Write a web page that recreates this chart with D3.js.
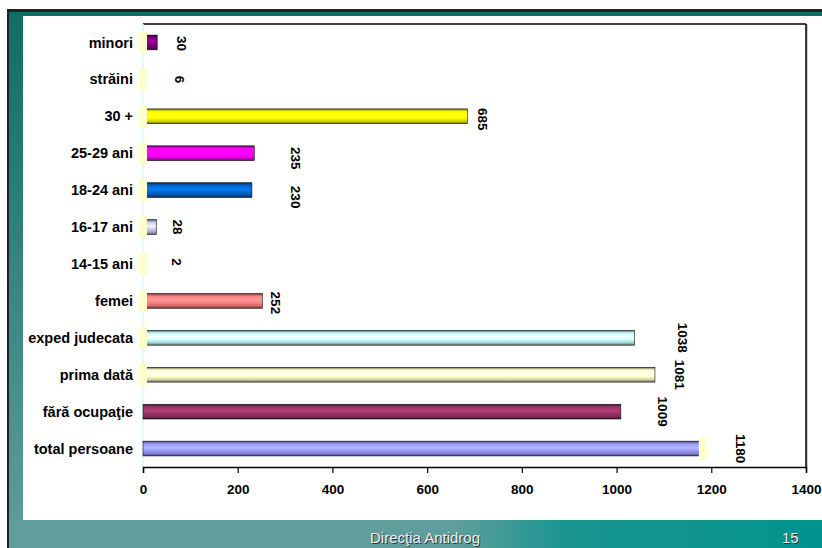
<!DOCTYPE html>
<html>
<head>
<meta charset="utf-8">
<script src="https://cdn.jsdelivr.net/npm/d3@7"></script>
<style>
  body { margin: 0; background: #fff; }
  svg { display: block; font-family: "Liberation Sans", Arial, sans-serif; }
</style>
</head>
<body>
<div id="chart"></div>
<script>
// chart data, top row first
const categories = ['minori', 'străini', '30 +', '25-29 ani', '18-24 ani', '16-17 ani', '14-15 ani',
  'femei', 'exped judecata', 'prima dată', 'fără ocupaţie', 'total persoane'];
const values = [30, 6, 685, 235, 230, 28, 2, 252, 1038, 1081, 1009, 1180];
const xTicks = [0, 200, 400, 600, 800, 1000, 1200, 1400];
const footerText = 'Direcţia Antidrog';
const pageNumber = '15';

// styling per row
const barColors = ['#800080', '#008080', '#ffff00', '#ff00ff', '#0066cc', '#ccccff', '#3366ff',
  '#ff8080', '#ccffff', '#ffffcc', '#993366', '#9999ff'];
const labelDx = [25, 34, 15, 41, 44, 21, 33, 13, 48, 25, 42, 39];
const labelDy = [1, 0, 3, 5, 7, 0, -2, 2, 0, 0, 0, 0];
const wallAt = ['start', 'start', 'start', 'start', 'start', 'start', 'start', 'start', 'start', 'start', null, 'end'];

const width = 822, height = 548;
const plot = { left: 143, right: 806, top: 24, bottom: 467 };

const svg = d3.select('#chart').append('svg')
  .attr('width', width)
  .attr('height', height);

const defs = svg.append('defs');

// slide background
const sideGrad = defs.append('linearGradient').attr('id', 'side').attr('x1', 0).attr('x2', 0).attr('y1', 0).attr('y2', 1);
sideGrad.append('stop').attr('offset', '0%').attr('stop-color', '#0f6d67');
sideGrad.append('stop').attr('offset', '100%').attr('stop-color', '#5f9e9b');

const footGrad = defs.append('linearGradient').attr('id', 'foot');
footGrad.append('stop').attr('offset', '0%').attr('stop-color', '#5f9e9b');
footGrad.append('stop').attr('offset', '55%').attr('stop-color', '#5f9e9b');
footGrad.append('stop').attr('offset', '68%').attr('stop-color', '#1a9590');
footGrad.append('stop').attr('offset', '100%').attr('stop-color', '#02938e');

svg.append('rect').attr('x', 7).attr('y', 9).attr('width', width - 7).attr('height', height - 9).attr('fill', 'url(#side)');
svg.append('rect').attr('x', 7).attr('y', 9).attr('width', width - 7).attr('height', 3).attr('fill', '#222');
svg.append('rect').attr('x', 7).attr('y', 9).attr('width', 2).attr('height', height - 9).attr('fill', '#222');
svg.append('rect').attr('x', 9).attr('y', 520).attr('width', width - 9).attr('height', 28).attr('fill', 'url(#foot)');
svg.append('rect').attr('x', 23).attr('y', 16).attr('width', width - 23).attr('height', 504).attr('fill', '#fff');

// footer texts
[[footerText, 370], [pageNumber, 782]].forEach(([t, x]) => {
  svg.append('text').attr('x', x + 1).attr('y', 544).attr('font-size', 15).attr('fill', '#333').text(t);
  svg.append('text').attr('x', x).attr('y', 543).attr('font-size', 15).attr('fill', '#eee').text(t);
});

// scales
const x = d3.scaleLinear().domain([0, 1400]).range([plot.left, plot.right]);
const y = d3.scaleBand().domain(categories).range([plot.top, plot.bottom]).paddingInner(0.6).paddingOuter(0.3);

// bar gradients
barColors.forEach((c, i) => {
  const g = defs.append('linearGradient').attr('id', 'bar' + i).attr('x1', 0).attr('x2', 0).attr('y1', 0).attr('y2', 1);
  const base = d3.color(c);
  [[0, base.darker(2.5)], [0.18, base], [0.45, base.brighter(0.5)], [0.62, base], [0.85, base.darker(0.6)], [1, base.darker(2.5)]]
    .forEach(([o, col]) => g.append('stop').attr('offset', o).attr('stop-color', col));
});

// frame: top and right black, left light cyan
svg.append('line').attr('x1', plot.left).attr('x2', plot.right).attr('y1', plot.top).attr('y2', plot.top)
  .attr('stroke', '#000').attr('stroke-width', 1.5);
svg.append('line').attr('x1', plot.right + 1).attr('x2', plot.right + 1).attr('y1', plot.top).attr('y2', plot.bottom)
  .attr('stroke', '#999').attr('stroke-width', 1);
svg.append('line').attr('x1', plot.right).attr('x2', plot.right).attr('y1', plot.top).attr('y2', plot.bottom)
  .attr('stroke', '#000').attr('stroke-width', 1.5);
svg.append('line').attr('x1', plot.left).attr('x2', plot.left).attr('y1', plot.top).attr('y2', plot.bottom)
  .attr('stroke', '#ccffff').attr('stroke-width', 1.5);

// bars
svg.append('g').selectAll('rect')
  .data(categories)
  .enter().append('rect')
  .attr('x', x(0))
  .attr('y', d => y(d))
  .attr('width', (d, i) => x(values[i]) - x(0))
  .attr('height', y.bandwidth())
  .attr('fill', (d, i) => 'url(#bar' + i + ')')
  .attr('stroke', '#111')
  .attr('stroke-width', 0.6);

// pale yellow wall pieces beside the bars
svg.append('g').selectAll('rect')
  .data(categories.filter((d, i) => wallAt[i]))
  .enter().append('rect')
  .attr('x', d => {
    const i = categories.indexOf(d);
    return wallAt[i] === 'start' ? x(0) - 4 : x(values[i]) - 3;
  })
  .attr('y', d => y(d) + y.bandwidth() / 2 - 11)
  .attr('width', 8)
  .attr('height', 22)
  .attr('fill', '#ffffcc');

// x axis
const xAxis = svg.append('g')
  .attr('transform', `translate(0,${plot.bottom})`)
  .call(d3.axisBottom(x).tickValues(xTicks).tickFormat(d3.format('d')).tickSizeOuter(0).tickSize(6).tickPadding(11));
xAxis.select('.domain').attr('stroke', '#000').attr('stroke-width', 1.5);
xAxis.selectAll('.tick line').attr('stroke', '#000').attr('stroke-width', 1.2);
xAxis.selectAll('.tick text')
  .attr('font-family', '"Liberation Sans", Arial, sans-serif')
  .attr('font-size', 13.5)
  .attr('font-weight', 'bold')
  .attr('fill', '#000');

// category labels
svg.append('g').selectAll('text')
  .data(categories)
  .enter().append('text')
  .attr('x', x(0) - 10)
  .attr('y', d => y(d) + y.bandwidth() / 2)
  .attr('dy', '0.35em')
  .attr('text-anchor', 'end')
  .attr('font-size', 14.5)
  .attr('font-weight', 'bold')
  .attr('fill', '#000')
  .text(d => d);

// value labels, rotated
svg.append('g').selectAll('text')
  .data(categories)
  .enter().append('text')
  .attr('transform', (d, i) => `translate(${x(values[i]) + labelDx[i]},${y(d) + y.bandwidth() / 2 + labelDy[i]}) rotate(90)`)
  .attr('dy', '0.35em')
  .attr('text-anchor', 'middle')
  .attr('font-size', 13.5)
  .attr('font-weight', 'bold')
  .attr('fill', '#000')
  .text((d, i) => values[i]);
</script>
</body>
</html>
